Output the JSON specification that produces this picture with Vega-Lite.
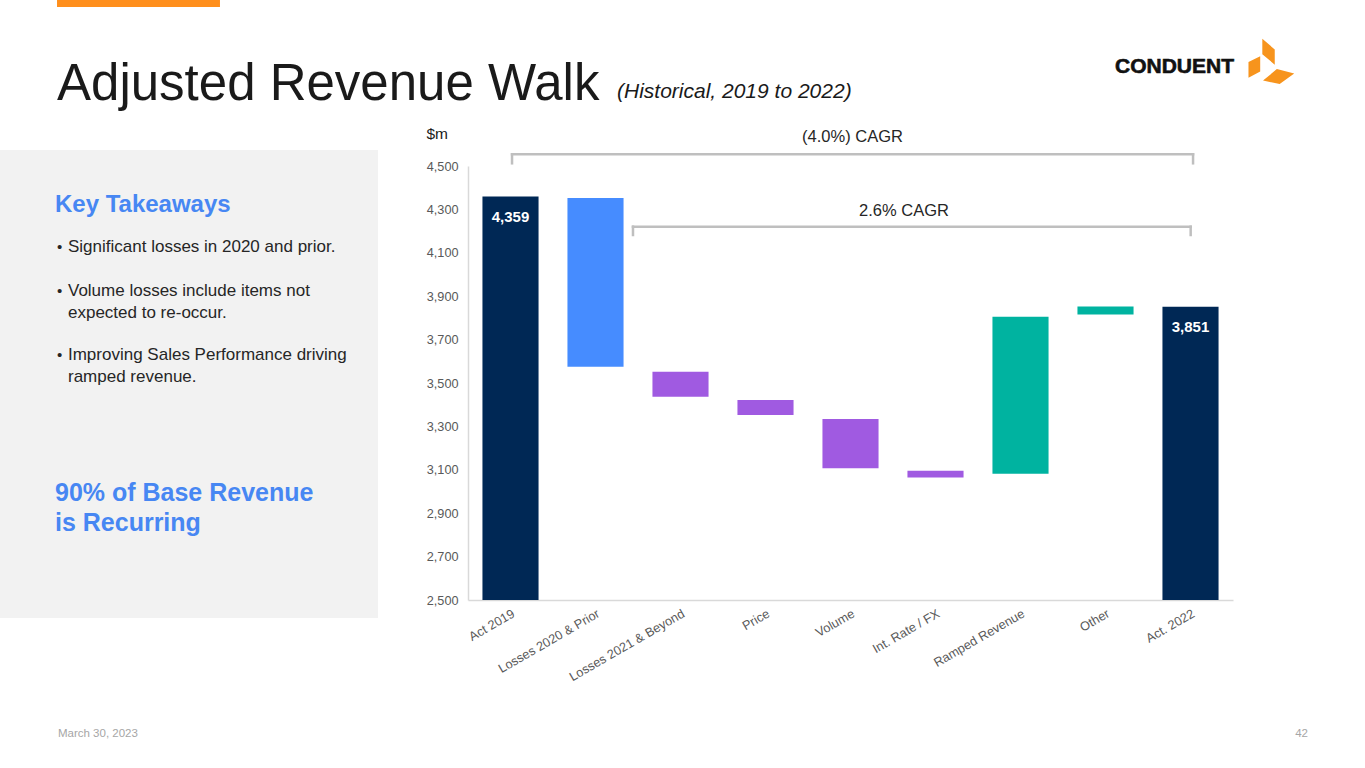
{
  "$schema": "https://vega.github.io/schema/vega-lite/v6.json",
  "width": 765,
  "height": 434,
  "autosize": {"type": "none"},
  "padding": {"left": 468, "top": 166, "right": 132, "bottom": 168},
  "background": "white",
  "config": {"view": {"stroke": null}, "font": "Liberation Sans"},
  "datasets": {
    "walk": [
      {"step": "Act 2019", "kind": "Actual", "start": 0, "end": 4359},
      {"step": "Losses 2020 & Prior", "kind": "Prior losses", "start": 4352, "end": 3575},
      {"step": "Losses 2021 & Beyond", "kind": "Decrease", "start": 3552, "end": 3437},
      {"step": "Price", "kind": "Decrease", "start": 3422, "end": 3353},
      {"step": "Volume", "kind": "Decrease", "start": 3334, "end": 3107},
      {"step": "Int. Rate / FX", "kind": "Decrease", "start": 3096, "end": 3064},
      {"step": "Ramped Revenue", "kind": "Increase", "start": 3082, "end": 3805},
      {"step": "Other", "kind": "Increase", "start": 3816, "end": 3852},
      {"step": "Act. 2022", "kind": "Actual", "start": 0, "end": 3851}
    ],
    "blocks": [
      {"role": "panel", "slot": -5.506, "slot2": -1.059, "level": 4573.7, "level2": 2417},
      {"role": "accent", "slot": -4.835, "slot2": -2.918, "level": 5265, "level2": 5233}
    ],
    "brackets": [
      {"span": "2019 to 2022", "slot": 0.518, "slot2": 8.53, "level": 4553.9, "level2": 4512.4},
      {"span": "2020 to 2022", "slot": 1.941, "slot2": 8.502, "level": 4220.3, "level2": 4182}
    ],
    "notes": [
      {"role": "title", "text": "Adjusted Revenue Walk", "slot": -4.835, "level": 4804},
      {"role": "subtitle", "text": "(Historical, 2019 to 2022)", "slot": 1.753, "level": 4813},
      {"role": "brand", "text": "CONDUENT", "slot": 7.612, "level": 4929},
      {"role": "heading", "text": "Key Takeaways", "slot": -4.859, "level": 4289},
      {"role": "bullet", "text": "Significant losses in 2020 and prior.", "slot": -4.706, "level": 4105},
      {"role": "bullet", "text": "Volume losses include items not\nexpected to re-occur.", "slot": -4.706, "level": 3902},
      {"role": "bullet", "text": "Improving Sales Performance driving\nramped revenue.", "slot": -4.706, "level": 3607},
      {"role": "callout", "text": "90% of Base Revenue\nis Recurring", "slot": -4.859, "level": 2957.6},
      {"role": "footer", "text": "March 30, 2023", "slot": -4.824, "level": 1868.7},
      {"role": "page", "text": "42", "slot": 9.882, "level": 1868.7},
      {"role": "cagr", "text": "(4.0%) CAGR", "slot": 4.524, "level": 4610.6},
      {"role": "cagr", "text": "2.6% CAGR", "slot": 5.129, "level": 4271}
    ],
    "logo": [
      {"brand": "Conduent mark", "slot": 9.447, "level": 4980}
    ]
  },
  "layer": [
    {
      "data": {"name": "walk"},
      "encoding": {
        "x": {
          "field": "step",
          "type": "nominal",
          "sort": null,
          "scale": {"paddingInner": 0.34, "paddingOuter": 0.17},
          "axis": {
            "title": null,
            "labelAngle": -30,
            "labelAlign": "right",
            "labelBaseline": "top",
            "labelPadding": 7,
            "labelLimit": 300,
            "labelFontSize": 12.7,
            "labelColor": "#595959",
            "ticks": false,
            "domainColor": "#d9d9d9",
            "domainWidth": 1.5
          }
        },
        "y": {
          "field": "end",
          "type": "quantitative",
          "scale": {"domain": [2500, 4500], "zero": false, "nice": false},
          "axis": {
            "values": [2500, 2700, 2900, 3100, 3300, 3500, 3700, 3900, 4100, 4300, 4500],
            "labelExpr": "format(datum.value, ',')",
            "grid": false,
            "ticks": false,
            "domainColor": "#d9d9d9",
            "domainWidth": 1.5,
            "labelPadding": 10,
            "labelFontSize": 12.7,
            "labelColor": "#595959",
            "title": "$m",
            "titleAngle": 0,
            "titleAlign": "left",
            "titleBaseline": "alphabetic",
            "titleX": -42,
            "titleY": -28,
            "titleFontSize": 15.5,
            "titleFontWeight": "normal",
            "titleColor": "#1a1a1a"
          }
        }
      },
      "layer": [
        {
          "mark": {"type": "bar", "clip": true},
          "encoding": {
            "y2": {"field": "start"},
            "color": {
              "field": "kind",
              "type": "nominal",
              "scale": {
                "domain": ["Actual", "Prior losses", "Decrease", "Increase"],
                "range": ["#002855", "#468cff", "#a05ae1", "#00b3a0"]
              },
              "legend": null
            }
          }
        },
        {
          "transform": [{"filter": "datum.kind === 'Actual'"}],
          "mark": {"type": "text", "color": "white", "fontWeight": "bold", "fontSize": 15, "baseline": "alphabetic", "dy": 25},
          "encoding": {
            "text": {"field": "end", "type": "quantitative", "format": ","}
          }
        }
      ]
    },
    {
      "encoding": {
        "x": {"field": "slot", "type": "quantitative", "scale": {"domain": [0, 9], "nice": false, "zero": false}, "axis": null},
        "y": {"field": "level", "type": "quantitative", "scale": {"domain": [2500, 4500], "nice": false, "zero": false}, "axis": null}
      },
      "layer": [
        {
          "data": {"name": "blocks"},
          "transform": [{"filter": "datum.role === 'panel'"}],
          "mark": {"type": "rect", "color": "#f2f2f2"},
          "encoding": {"x2": {"field": "slot2"}, "y2": {"field": "level2"}}
        },
        {
          "data": {"name": "blocks"},
          "transform": [{"filter": "datum.role === 'accent'"}],
          "mark": {"type": "rect", "color": "#ff8f1c"},
          "encoding": {"x2": {"field": "slot2"}, "y2": {"field": "level2"}}
        },
        {
          "data": {"name": "brackets"},
          "mark": {"type": "rule", "color": "#bfbfbf", "strokeWidth": 2.5, "strokeCap": "square"},
          "encoding": {"x2": {"field": "slot2"}}
        },
        {
          "data": {"name": "brackets"},
          "mark": {"type": "rule", "color": "#bfbfbf", "strokeWidth": 2.5, "strokeCap": "square"},
          "encoding": {"y2": {"field": "level2"}}
        },
        {
          "data": {"name": "brackets"},
          "mark": {"type": "rule", "color": "#bfbfbf", "strokeWidth": 2.5, "strokeCap": "square"},
          "encoding": {"x": {"field": "slot2", "type": "quantitative"}, "y2": {"field": "level2"}}
        },
        {
          "data": {"name": "notes"},
          "transform": [{"filter": "datum.role === 'title'"}],
          "mark": {"type": "text", "align": "left", "baseline": "alphabetic", "fontSize": 51, "color": "#1a1a1a"},
          "encoding": {"text": {"field": "text"}}
        },
        {
          "data": {"name": "notes"},
          "transform": [{"filter": "datum.role === 'subtitle'"}],
          "mark": {"type": "text", "align": "left", "baseline": "alphabetic", "fontSize": 21, "fontStyle": "italic", "color": "#1a1a1a"},
          "encoding": {"text": {"field": "text"}}
        },
        {
          "data": {"name": "notes"},
          "transform": [{"filter": "datum.role === 'brand'"}],
          "mark": {"type": "text", "align": "left", "baseline": "alphabetic", "fontSize": 21, "fontWeight": "bold", "color": "#111111", "stroke": "#111111", "strokeWidth": 0.6},
          "encoding": {"text": {"field": "text"}}
        },
        {
          "data": {"name": "logo"},
          "mark": {
            "type": "point",
            "filled": true,
            "opacity": 1,
            "size": 2200,
            "color": "#f7941d",
            "strokeWidth": 0,
            "shape": "M-0.37,-0.98L0.16,-0.53L0.16,0.12L-0.37,-0.32ZM-0.96,0.01L-0.46,-0.24L-0.46,0.41L-0.96,0.68ZM-0.34,0.8L0.25,0.31L0.99,0.5L0.37,0.95Z"
          }
        },
        {
          "data": {"name": "notes"},
          "transform": [{"filter": "datum.role === 'heading'"}],
          "mark": {"type": "text", "align": "left", "baseline": "alphabetic", "fontSize": 24, "fontWeight": "bold", "color": "#4787f3"},
          "encoding": {"text": {"field": "text"}}
        },
        {
          "data": {"name": "notes"},
          "transform": [{"filter": "datum.role === 'bullet'"}],
          "mark": {"type": "text", "align": "left", "baseline": "alphabetic", "fontSize": 17, "color": "#262626", "lineBreak": "\n", "lineHeight": 22},
          "encoding": {"text": {"field": "text"}}
        },
        {
          "data": {"name": "notes"},
          "transform": [{"filter": "datum.role === 'bullet'"}],
          "mark": {"type": "text", "align": "left", "baseline": "alphabetic", "fontSize": 15, "color": "#262626", "text": "•", "dx": -11}
        },
        {
          "data": {"name": "notes"},
          "transform": [{"filter": "datum.role === 'callout'"}],
          "mark": {"type": "text", "align": "left", "baseline": "alphabetic", "fontSize": 25, "fontWeight": "bold", "color": "#4787f3", "lineBreak": "\n", "lineHeight": 30},
          "encoding": {"text": {"field": "text"}}
        },
        {
          "data": {"name": "notes"},
          "transform": [{"filter": "datum.role === 'footer'"}],
          "mark": {"type": "text", "align": "left", "baseline": "alphabetic", "fontSize": 11.5, "color": "#a6a6a6"},
          "encoding": {"text": {"field": "text"}}
        },
        {
          "data": {"name": "notes"},
          "transform": [{"filter": "datum.role === 'page'"}],
          "mark": {"type": "text", "align": "right", "baseline": "alphabetic", "fontSize": 11.5, "color": "#a6a6a6"},
          "encoding": {"text": {"field": "text"}}
        },
        {
          "data": {"name": "notes"},
          "transform": [{"filter": "datum.role === 'cagr'"}],
          "mark": {"type": "text", "align": "center", "baseline": "alphabetic", "fontSize": 16.5, "color": "#262626"},
          "encoding": {"text": {"field": "text"}}
        }
      ]
    }
  ],
  "resolve": {"scale": {"x": "independent", "y": "independent"}, "axis": {"x": "independent", "y": "independent"}}
}
